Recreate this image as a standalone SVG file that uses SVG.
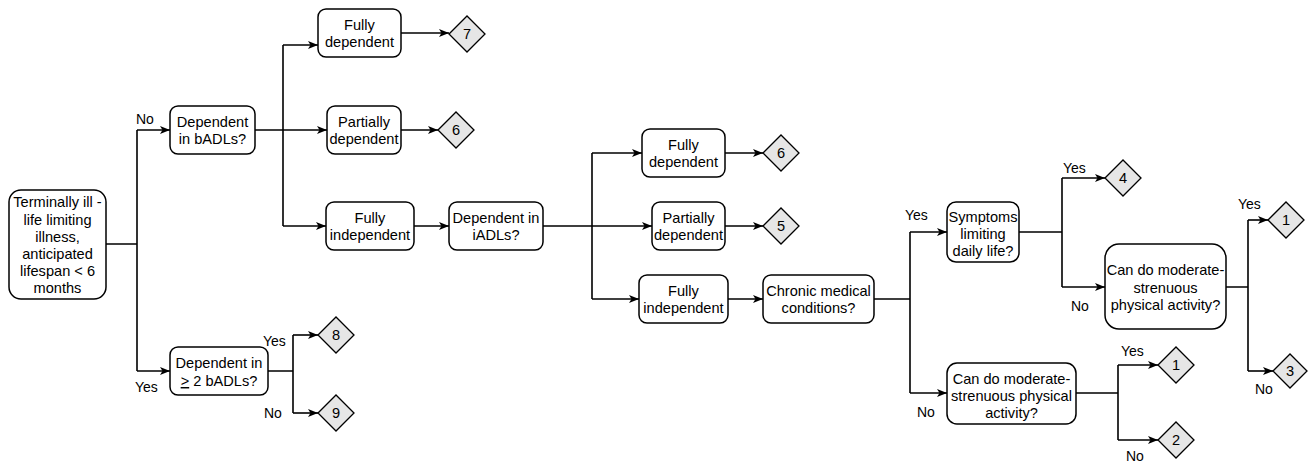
<svg xmlns="http://www.w3.org/2000/svg" width="1308" height="463" viewBox="0 0 1308 463">
<style>
.box{fill:#fff;stroke:#000;stroke-width:1.5}
.dia{fill:#e6e6e6;stroke:#000;stroke-width:1.3}
.t{font-family:"Liberation Sans",Arial,sans-serif;font-size:14.6px;fill:#000;text-anchor:middle}
.l{font-family:"Liberation Sans",Arial,sans-serif;font-size:14px;fill:#000}
.c{fill:none;stroke:#000;stroke-width:1.6}
</style>
<defs>
<marker id="arr" markerUnits="userSpaceOnUse" viewBox="0 0 10 8" refX="10" refY="4" markerWidth="10" markerHeight="8" orient="auto">
<path d="M0,0 L10,4 L0,8 L2.5,4 Z" fill="#000"/>
</marker>
</defs>
<rect width="1308" height="463" fill="#fff"/>
<g id="connectors">
<path class="c" d="M106,244 H137 M137,130 V371"/>
<path class="c" d="M137,130 H170" marker-end="url(#arr)"/>
<path class="c" d="M137,371 H170" marker-end="url(#arr)"/>
<path class="c" d="M255,130 H283 M283,45 V226"/>
<path class="c" d="M283,45 H318" marker-end="url(#arr)"/>
<path class="c" d="M283,130 H327" marker-end="url(#arr)"/>
<path class="c" d="M283,226 H326" marker-end="url(#arr)"/>
<path class="c" d="M401,33 H449" marker-end="url(#arr)"/>
<path class="c" d="M401,130 H438" marker-end="url(#arr)"/>
<path class="c" d="M414,226 H449" marker-end="url(#arr)"/>
<path class="c" d="M543,226 H592 M592,153 V299"/>
<path class="c" d="M592,153 H642" marker-end="url(#arr)"/>
<path class="c" d="M592,226 H652" marker-end="url(#arr)"/>
<path class="c" d="M592,299 H639" marker-end="url(#arr)"/>
<path class="c" d="M725,153 H763" marker-end="url(#arr)"/>
<path class="c" d="M725,226 H763" marker-end="url(#arr)"/>
<path class="c" d="M728,299 H763" marker-end="url(#arr)"/>
<path class="c" d="M874,299 H910 M910,232 V393"/>
<path class="c" d="M910,232 H947" marker-end="url(#arr)"/>
<path class="c" d="M910,393 H947" marker-end="url(#arr)"/>
<path class="c" d="M1019,232 H1062 M1062,178 V287"/>
<path class="c" d="M1062,178 H1105" marker-end="url(#arr)"/>
<path class="c" d="M1062,287 H1105" marker-end="url(#arr)"/>
<path class="c" d="M1226,287 H1248 M1248,220 V371"/>
<path class="c" d="M1248,220 H1268" marker-end="url(#arr)"/>
<path class="c" d="M1248,371 H1273" marker-end="url(#arr)"/>
<path class="c" d="M1076,393 H1118 M1118,365 V440"/>
<path class="c" d="M1118,365 H1158" marker-end="url(#arr)"/>
<path class="c" d="M1118,440 H1158" marker-end="url(#arr)"/>
<path class="c" d="M268,371 H293 M293,335 V413"/>
<path class="c" d="M293,335 H318" marker-end="url(#arr)"/>
<path class="c" d="M293,413 H318" marker-end="url(#arr)"/>
</g>
<g id="edge-labels">
<text class="l" x="136" y="124">No</text>
<text class="l" x="135" y="392">Yes</text>
<text class="l" x="263" y="346">Yes</text>
<text class="l" x="264" y="418">No</text>
<text class="l" x="905" y="220">Yes</text>
<text class="l" x="917" y="417">No</text>
<text class="l" x="1063" y="173">Yes</text>
<text class="l" x="1071" y="311">No</text>
<text class="l" x="1238" y="209">Yes</text>
<text class="l" x="1255" y="394">No</text>
<text class="l" x="1121" y="356">Yes</text>
<text class="l" x="1126" y="461">No</text>
</g>
<g id="n-start"><rect class="box" x="9" y="190" width="97" height="109" rx="12"/>
<text class="t"><tspan x="57.5" y="207">Terminally ill -</tspan><tspan x="57.5" y="225">life limiting</tspan><tspan x="57.5" y="242">illness,</tspan><tspan x="57.5" y="259">anticipated</tspan><tspan x="57.5" y="276">lifespan &lt; 6</tspan><tspan x="57.5" y="293">months</tspan></text></g>
<g id="n-badl"><rect class="box" x="170" y="106" width="85" height="48" rx="8"/>
<text class="t"><tspan x="212.5" y="127">Dependent</tspan><tspan x="212.5" y="144">in bADLs?</tspan></text></g>
<g id="n-fd1"><rect class="box" x="318" y="9" width="83" height="48" rx="8"/>
<text class="t"><tspan x="359.5" y="30">Fully</tspan><tspan x="359.5" y="47">dependent</tspan></text></g>
<g id="n-pd1"><rect class="box" x="327" y="106" width="74" height="48" rx="8"/>
<text class="t"><tspan x="364" y="127">Partially</tspan><tspan x="364" y="144">dependent</tspan></text></g>
<g id="n-fi1"><rect class="box" x="326" y="202" width="88" height="48" rx="8"/>
<text class="t"><tspan x="370" y="223">Fully</tspan><tspan x="370" y="240">independent</tspan></text></g>
<g id="n-iadl"><rect class="box" x="449" y="202" width="94" height="48" rx="8"/>
<text class="t"><tspan x="496" y="223">Dependent in</tspan><tspan x="496" y="240">iADLs?</tspan></text></g>
<g id="n-fd2"><rect class="box" x="642" y="129" width="83" height="48" rx="8"/>
<text class="t"><tspan x="683.5" y="150">Fully</tspan><tspan x="683.5" y="167">dependent</tspan></text></g>
<g id="n-pd2"><rect class="box" x="652" y="202" width="73" height="48" rx="8"/>
<text class="t"><tspan x="688.5" y="223">Partially</tspan><tspan x="688.5" y="240">dependent</tspan></text></g>
<g id="n-fi2"><rect class="box" x="639" y="275" width="89" height="48" rx="8"/>
<text class="t"><tspan x="683.5" y="296">Fully</tspan><tspan x="683.5" y="313">independent</tspan></text></g>
<g id="n-chronic"><rect class="box" x="763" y="275" width="111" height="48" rx="8"/>
<text class="t"><tspan x="818.5" y="296">Chronic medical</tspan><tspan x="818.5" y="313">conditions?</tspan></text></g>
<g id="n-symptoms"><rect class="box" x="947" y="202" width="72" height="60" rx="9"/>
<text class="t"><tspan x="983" y="222">Symptoms</tspan><tspan x="983" y="239">limiting</tspan><tspan x="983" y="256">daily life?</tspan></text></g>
<g id="n-act1"><rect class="box" x="1105" y="244" width="121" height="85" rx="14"/>
<text class="t"><tspan x="1165.5" y="275">Can do moderate-</tspan><tspan x="1165.5" y="292.5">strenuous</tspan><tspan x="1165.5" y="310">physical activity?</tspan></text></g>
<g id="n-act2"><rect class="box" x="947" y="363" width="129" height="61" rx="10"/>
<text class="t"><tspan x="1011.5" y="384">Can do moderate-</tspan><tspan x="1011.5" y="401">strenuous physical</tspan><tspan x="1011.5" y="418">activity?</tspan></text></g>
<g id="n-2badl"><rect class="box" x="170" y="347" width="98" height="48" rx="8"/>
<text class="t"><tspan x="219" y="368">Dependent in</tspan><tspan x="219" y="386"><tspan text-decoration="underline">&gt;</tspan> 2 bADLs?</tspan></text></g>
<g id="d7"><path class="dia" d="M449,34 L467,16 L485,34 L467,52 Z"/><text class="t" x="467" y="39">7</text></g>
<g id="d6a"><path class="dia" d="M438,130 L456,112 L474,130 L456,148 Z"/><text class="t" x="456" y="135">6</text></g>
<g id="d6b"><path class="dia" d="M763,153 L781,135 L799,153 L781,171 Z"/><text class="t" x="781" y="158">6</text></g>
<g id="d5"><path class="dia" d="M763,226 L781,208 L799,226 L781,244 Z"/><text class="t" x="781" y="231">5</text></g>
<g id="d4"><path class="dia" d="M1105,178 L1123,160 L1141,178 L1123,196 Z"/><text class="t" x="1123" y="183">4</text></g>
<g id="d1a"><path class="dia" d="M1268,220 L1286,202 L1304,220 L1286,238 Z"/><text class="t" x="1286" y="225">1</text></g>
<g id="d3"><path class="dia" d="M1273,371 L1290,354 L1307,371 L1290,388 Z"/><text class="t" x="1290" y="376">3</text></g>
<g id="d1b"><path class="dia" d="M1158,365 L1176,347 L1194,365 L1176,383 Z"/><text class="t" x="1176" y="370">1</text></g>
<g id="d2"><path class="dia" d="M1158,440 L1176,422 L1194,440 L1176,458 Z"/><text class="t" x="1176" y="445">2</text></g>
<g id="d8"><path class="dia" d="M318,335 L336,317 L354,335 L336,353 Z"/><text class="t" x="336" y="340">8</text></g>
<g id="d9"><path class="dia" d="M318,413 L336,395 L354,413 L336,431 Z"/><text class="t" x="336" y="418">9</text></g>
</svg>
